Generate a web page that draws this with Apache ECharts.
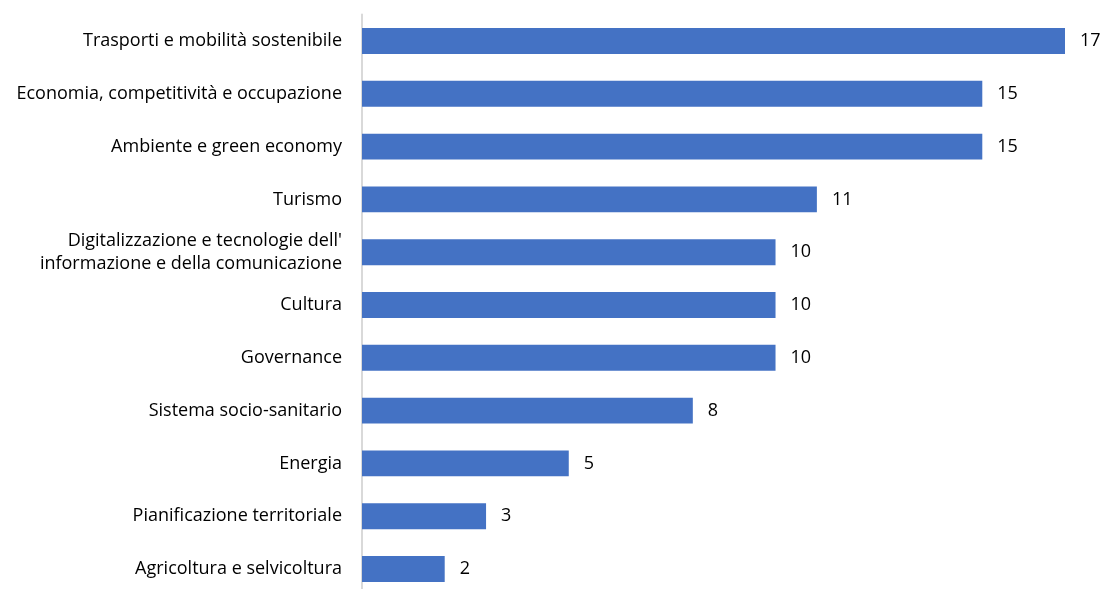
<!DOCTYPE html>
<html>
<head>
<meta charset="utf-8">
<script src="https://cdn.jsdelivr.net/npm/echarts@6/dist/echarts.min.js"></script>
<style>
  html, body { margin: 0; padding: 0; background: #fff; }
  #chart { width: 1102px; height: 589px; }
</style>
</head>
<body>
<div id="chart"></div>
<script>
// Topics, listed top to bottom
const categories = [
  'Trasporti e mobilità sostenibile',
  'Economia, competitività e occupazione',
  'Ambiente e green economy',
  'Turismo',
  "Digitalizzazione e tecnologie dell'\ninformazione e della comunicazione",
  'Cultura',
  'Governance',
  'Sistema socio-sanitario',
  'Energia',
  'Pianificazione territoriale',
  'Agricoltura e selvicoltura'
];
const values = [17, 15, 15, 11, 10, 10, 10, 8, 5, 3, 2];

const chart = echarts.init(document.getElementById('chart'), null, { renderer: 'canvas' });
const fontFamily = 'Open Sans, Liberation Sans, sans-serif';

chart.setOption({
  animation: false,
  grid: {
    left: 362, top: 14.6, width: 703, height: 580.8,
    containLabel: false, outerBoundsMode: 'none'
  },
  xAxis: {
    type: 'value', min: 0, max: 17,
    show: false
  },
  yAxis: {
    type: 'category',
    data: categories,
    inverse: true,
    axisLine: { show: true, lineStyle: { color: '#d9d9d9', width: 2 } },
    axisTick: { show: false },
    axisLabel: {
      margin: 20, color: '#000', fontSize: 18, fontFamily, lineHeight: 23, align: 'right'
    }
  },
  series: [{
    type: 'bar',
    data: values,
    barCategoryGap: '51%',
    itemStyle: { color: '#4472C4' },
    label: {
      show: true, position: 'right', distance: 15,
      color: '#000', fontSize: 18, fontFamily
    }
  }]
});
</script>
</body>
</html>
